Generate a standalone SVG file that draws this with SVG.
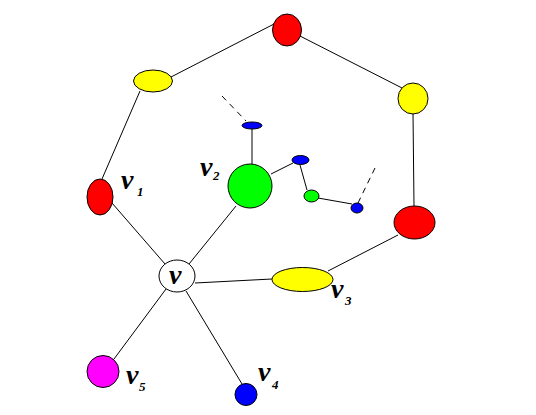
<svg xmlns="http://www.w3.org/2000/svg" width="536" height="415" viewBox="0 0 536 415">
<style>
.e{stroke:#000;stroke-width:1}
.l{stroke:#000;stroke-width:1;fill:none}
.d{stroke:#000;stroke-width:1;fill:none;stroke-dasharray:6,5}
.t{font-family:"Liberation Serif",serif;font-weight:bold;font-style:italic;font-size:28px;fill:#000}
.s{font-size:13px}
</style>
<rect width="536" height="415" fill="#fff"/>
<g id="connectors">
<line class="l" x1="102" y1="179" x2="140" y2="91"/>
<line class="l" x1="171" y1="77" x2="274" y2="24"/>
<line class="l" x1="300" y1="36" x2="402" y2="88"/>
<line class="l" x1="413" y1="113" x2="414" y2="206"/>
<line class="l" x1="328" y1="271" x2="398" y2="235"/>
<line class="l" x1="195" y1="283" x2="272" y2="279"/>
<line class="l" x1="112" y1="203" x2="165" y2="264"/>
<line class="l" x1="189" y1="264" x2="236" y2="206"/>
<line class="l" x1="166" y1="289" x2="114" y2="359"/>
<line class="l" x1="186" y1="291" x2="242" y2="384"/>
<line class="l" x1="252" y1="164" x2="252" y2="129"/>
<line class="l" x1="271" y1="174" x2="293" y2="163"/>
<line class="l" x1="300" y1="165" x2="307" y2="190"/>
<line class="l" x1="318" y1="198" x2="352" y2="204"/>
<line class="d" x1="222" y1="96" x2="246" y2="121"/>
<line class="d" x1="375" y1="168" x2="358" y2="203"/>
</g>
<g id="n-top"><ellipse class="e" cx="287" cy="30" rx="14.5" ry="16" fill="#ff0000"/></g>
<g id="n-yl"><ellipse class="e" cx="153" cy="81" rx="19.5" ry="11" fill="#ffff00"/></g>
<g id="n-yr"><ellipse class="e" cx="413" cy="98.5" rx="15" ry="15.5" fill="#ffff00"/></g>
<g id="n-rr"><ellipse class="e" cx="414.5" cy="222.5" rx="20.5" ry="16.5" fill="#ff0000"/></g>
<g id="v1"><ellipse class="e" cx="100" cy="197" rx="13" ry="18" fill="#ff0000"/>
<text class="t" x="121" y="189">v</text><text class="t s" x="137" y="196">1</text></g>
<g id="v"><ellipse class="e" cx="177" cy="276" rx="18" ry="16" fill="#fff"/>
<text class="t" x="169" y="284">v</text></g>
<g id="v2"><circle class="e" cx="250" cy="186" r="22" fill="#00ff00"/>
<text class="t" x="200" y="176">v</text><text class="t s" x="213" y="180">2</text></g>
<g id="v3"><ellipse class="e" cx="302.5" cy="279.5" rx="30.5" ry="12" fill="#ffff00"/>
<text class="t" x="331" y="298">v</text><text class="t s" x="345" y="305">3</text></g>
<g id="b1"><ellipse class="e" cx="252" cy="125.5" rx="10" ry="3.5" fill="#0000ff"/></g>
<g id="b2"><ellipse class="e" cx="300.5" cy="160" rx="8.5" ry="4.5" fill="#0000ff"/></g>
<g id="g1"><ellipse class="e" cx="311.5" cy="196" rx="7.5" ry="6" fill="#00ff00"/></g>
<g id="b3"><ellipse class="e" cx="357" cy="208" rx="6" ry="5" fill="#0000ff"/></g>
<g id="v5"><circle class="e" cx="103" cy="371.5" r="16" fill="#ff00ff"/>
<text class="t" x="126" y="384">v</text><text class="t s" x="139" y="391">5</text></g>
<g id="v4"><circle class="e" cx="246" cy="394.5" r="11" fill="#0000ff"/>
<text class="t" x="258" y="381">v</text><text class="t s" x="272" y="389">4</text></g>
</svg>
